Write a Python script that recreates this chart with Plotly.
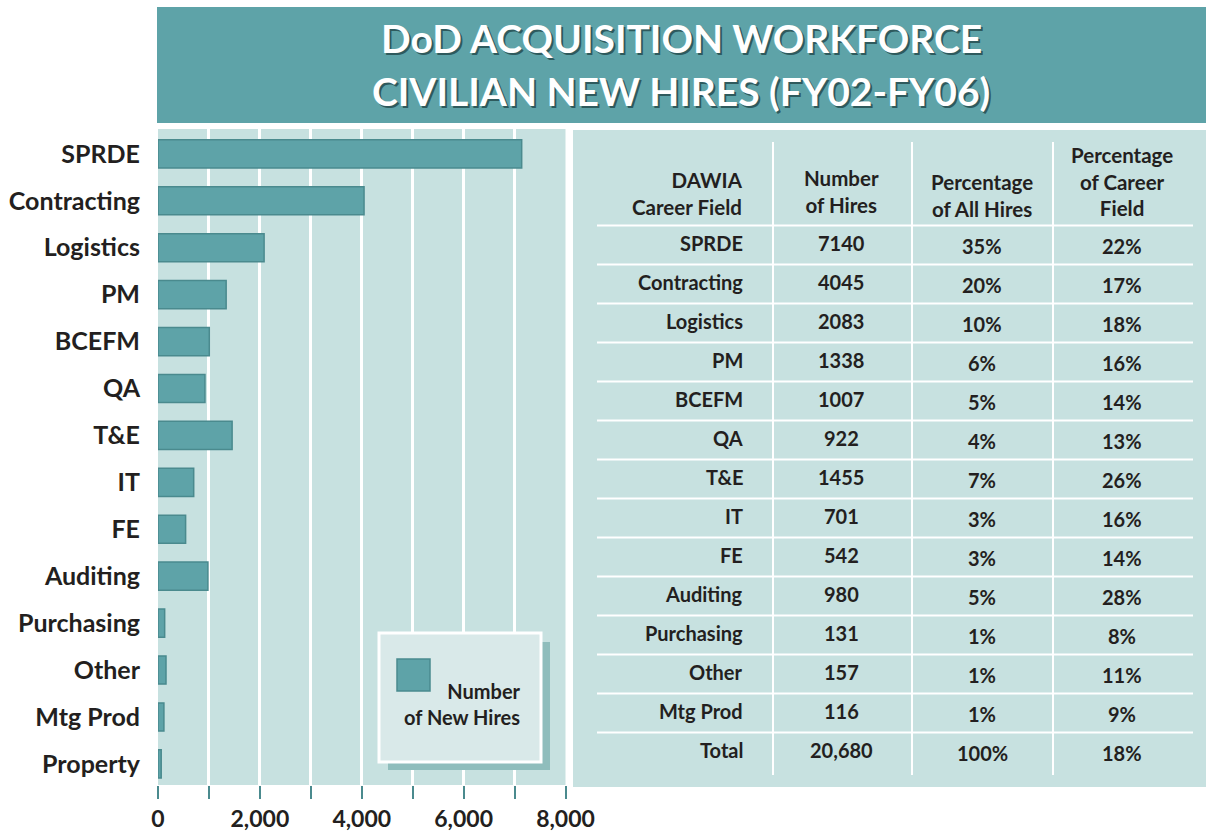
import plotly.graph_objects as go

# ---------------- data ----------------
categories = ["SPRDE", "Contracting", "Logistics", "PM", "BCEFM", "QA", "T&E", "IT",
              "FE", "Auditing", "Purchasing", "Other", "Mtg Prod", "Property"]
new_hires = [7140, 4045, 2083, 1338, 1007, 922, 1455, 701, 542, 980, 131, 157, 116, 63]

table_headers = ["DAWIA<br>Career Field", "Number<br>of Hires",
                 "Percentage<br>of All Hires", "Percentage<br>of Career<br>Field"]
table_fields = ["SPRDE", "Contracting", "Logistics", "PM", "BCEFM", "QA", "T&E", "IT",
                "FE", "Auditing", "Purchasing", "Other", "Mtg Prod", "Total"]
table_hires = ["7140", "4045", "2083", "1338", "1007", "922", "1455", "701", "542",
               "980", "131", "157", "116", "20,680"]
table_pct_all = ["35%", "20%", "10%", "6%", "5%", "4%", "7%", "3%", "3%", "5%",
                 "1%", "1%", "1%", "100%"]
table_pct_field = ["22%", "17%", "18%", "16%", "14%", "13%", "26%", "16%", "14%",
                   "28%", "8%", "11%", "9%", "18%"]

x_tick_vals = [0, 1000, 2000, 3000, 4000, 5000, 6000, 7000, 8000]
x_tick_text = ["0", "", "2,000", "", "4,000", "", "6,000", "", "8,000"]

title_lines = ["DoD ACQUISITION WORKFORCE", "CIVILIAN NEW HIRES (FY02-FY06)"]
legend_label = "Number<br>of New Hires"

# ---------------- styling ----------------
W, H = 1206, 832
TEAL = "#5ea3a8"
TEAL_DARK = "#4a8a8e"
BG = "#c7e1e0"
INK = "#231f20"
FONT = "Lato"


def px(x):
    return x / W


def py(y):
    return 1 - y / H


fig = go.Figure()

fig.add_trace(go.Bar(
    x=new_hires, y=categories, orientation="h",
    marker=dict(color=TEAL, line=dict(color=TEAL_DARK, width=1.5)),
    width=0.6, showlegend=False, hoverinfo="x+y",
))

shapes = []
annotations = []

# title banner
shapes.append(dict(type="rect", xref="paper", yref="paper",
                   x0=px(157), x1=1, y0=py(123), y1=py(7),
                   fillcolor=TEAL, line=dict(width=0), layer="below"))
for line, yc in zip(title_lines, [38, 91]):
    for dx, col in [(2, "#2e5a5d"), (0, "white")]:
        annotations.append(dict(text=f"<b>{line}</b>", xref="paper", yref="paper",
                                x=px(681), y=py(yc), xshift=dx, yshift=-dx,
                                xanchor="center", yanchor="middle",
                                showarrow=False, font=dict(family=FONT, size=39, color=col)))

# legend box
shapes.append(dict(type="rect", xref="paper", yref="paper",
                   x0=px(388), x1=px(550), y0=py(770), y1=py(642),
                   fillcolor="#8fbdbc", line=dict(width=0)))
shapes.append(dict(type="rect", xref="paper", yref="paper",
                   x0=px(379), x1=px(541), y0=py(762), y1=py(633),
                   fillcolor="#d9e9e9", line=dict(color="white", width=3)))
shapes.append(dict(type="rect", xref="paper", yref="paper",
                   x0=px(397), x1=px(430), y0=py(691), y1=py(659),
                   fillcolor=TEAL, line=dict(color=TEAL_DARK, width=1.5)))
annotations.append(dict(text=f"<b>{legend_label}</b>", xref="paper", yref="paper",
                        x=px(523), y=py(704), xanchor="right", yanchor="middle", align="right",
                        showarrow=False, font=dict(family=FONT, size=20, color=INK)))

# table: coordinates on x2 (pixel-like columns) / y2 (row index)
col_lines = [773, 912, 1053]
for xv in col_lines:
    shapes.append(dict(type="line", xref="x2", yref="y2", x0=xv, x1=xv, y0=-2.64, y1=13.59,
                       line=dict(color="white", width=2)))
for k in range(len(table_fields)):
    shapes.append(dict(type="line", xref="x2", yref="y2", x0=597, x1=1193, y0=k - 0.5, y1=k - 0.5,
                       line=dict(color="white", width=2)))

hdr_specs = [(745, "right", -1.33), (841, "center", -1.36), (982, "center", -1.26), (1122, "center", -1.62)]
for text, (xv, anc, yv) in zip(table_headers, hdr_specs):
    annotations.append(dict(text=f"<b>{text}</b>", xref="x2", yref="y2", x=xv, y=yv,
                            xanchor=anc, yanchor="middle", align=anc, showarrow=False,
                            font=dict(family=FONT, size=20.5, color=INK)))

cols = [(table_fields, 745, "right", -0.05), (table_hires, 841, "center", -0.05),
        (table_pct_all, 982, "center", 0.03), (table_pct_field, 1122, "center", 0.03)]
for values, xv, anc, dy in cols:
    for r, v in enumerate(values):
        annotations.append(dict(text=f"<b>{v}</b>", xref="x2", yref="y2", x=xv, y=r + dy,
                                xanchor=anc, yanchor="middle", showarrow=False,
                                font=dict(family=FONT, size=20, color=INK)))

fig.update_layout(
    template="none",
    width=W, height=H, autosize=False,
    margin=dict(l=0, r=0, t=0, b=0, pad=0),
    paper_bgcolor="white", plot_bgcolor=BG,
    font=dict(family=FONT, color=INK),
    xaxis=dict(domain=[px(158), px(565.5)], range=[0, 8000], anchor="y", automargin=False,
               tickvals=x_tick_vals, ticktext=[f"<b>{t}</b>" if t else "" for t in x_tick_text],
               ticks="outside", ticklen=13, tickwidth=2, tickcolor=TEAL_DARK,
               showgrid=True, gridcolor="white", gridwidth=2.5, zeroline=False, showline=False,
               tickfont=dict(family=FONT, size=23, color=INK), fixedrange=True),
    yaxis=dict(domain=[py(785), py(129)], range=[13.45, -0.53], anchor="x", automargin=False,
               type="category", categoryorder="array", categoryarray=categories,
               tickvals=categories, ticktext=[f"<b>{c}</b>" for c in categories],
               showgrid=False, zeroline=False, ticks="", ticklabelstandoff=17,
               tickfont=dict(family=FONT, size=25, color=INK), fixedrange=True),
    xaxis2=dict(domain=[px(573), 1], range=[573, 1206], anchor="y2", visible=False,
                automargin=False, showgrid=False, zeroline=False, fixedrange=True),
    yaxis2=dict(domain=[py(787), py(130)], range=[13.897, -2.949], anchor="x2", visible=False,
                automargin=False, showgrid=False, zeroline=False, fixedrange=True),
    shapes=shapes, annotations=annotations, showlegend=False,
)

fig.write_html("out.html", config={"displayModeBar": False, "responsive": False},
               post_script="document.body.style.margin='0';document.body.style.overflow='hidden';")
